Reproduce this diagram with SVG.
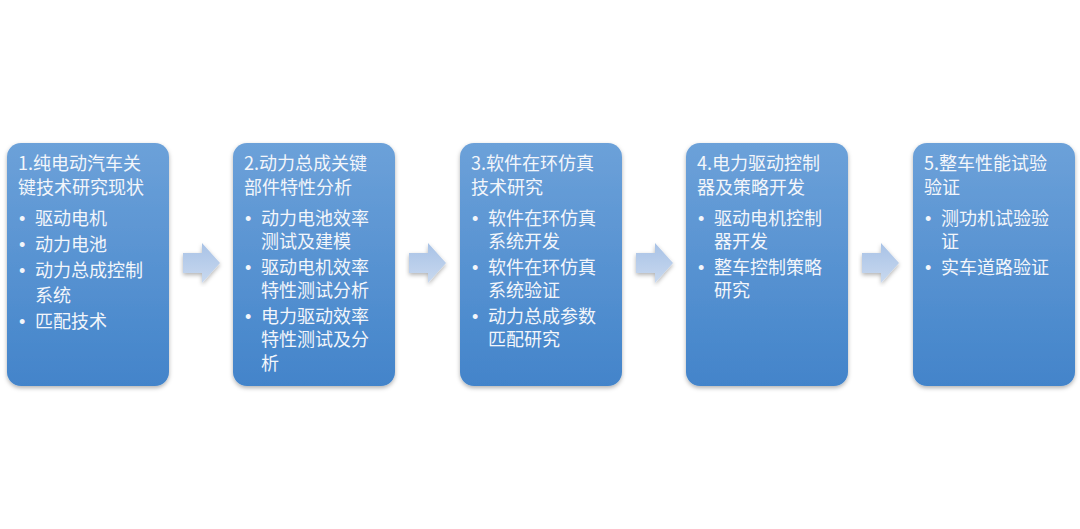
<svg xmlns="http://www.w3.org/2000/svg" width="1080" height="529" viewBox="0 0 1080 529">
<defs>
<linearGradient id="boxg" x1="0" y1="0" x2="0" y2="1">
<stop offset="0" stop-color="#6ca1d9"/>
<stop offset="1" stop-color="#4384ca"/>
</linearGradient>
<linearGradient id="arrg" x1="0" y1="0" x2="0" y2="1">
<stop offset="0" stop-color="#a8c2e6"/>
<stop offset="1" stop-color="#c9d9ef"/>
</linearGradient>
<filter id="sh" x="-10%" y="-10%" width="120%" height="120%">
<feDropShadow dx="0" dy="2" stdDeviation="2" flood-color="#000" flood-opacity="0.3"/>
</filter>
<path id="arrow" d="M0,10 H19 V0 L37,20 L19,40 V30 H0 Z"/>
</defs>
<style>
.box{fill:url(#boxg);filter:url(#sh)}
.arr{fill:url(#arrg);filter:url(#sh)}
text{font-family:"Noto Sans CJK SC","Noto Sans",sans-serif;font-size:18px;fill:#f3f6fb}
text.b{font-family:"Liberation Sans",sans-serif;font-size:18px}
</style>
<rect width="1080" height="529" fill="#ffffff"/>
<g id="connectors">
<use href="#arrow" class="arr" x="183" y="243"/>
<use href="#arrow" class="arr" x="409" y="243"/>
<use href="#arrow" class="arr" x="636" y="243"/>
<use href="#arrow" class="arr" x="862" y="243"/>
</g>
<g id="node1">
<rect class="box" x="7" y="143" width="162" height="243" rx="14"/>
<text x="18" y="169.5">1.纯电动汽车关</text>
<text x="18" y="193.5">键技术研究现状</text>
<text class="b" x="19" y="224.5">•</text><text x="35" y="224.5">驱动电机</text>
<text class="b" x="19" y="250.5">•</text><text x="35" y="250.5">动力电池</text>
<text class="b" x="19" y="276.5">•</text><text x="35" y="276.5">动力总成控制</text>
<text x="35" y="301.5">系统</text>
<text class="b" x="19" y="327.5">•</text><text x="35" y="327.5">匹配技术</text>
</g>
<g id="node2">
<rect class="box" x="233" y="143" width="162" height="243" rx="14"/>
<text x="244" y="169.5">2.动力总成关键</text>
<text x="244" y="193.5">部件特性分析</text>
<text class="b" x="245" y="224.5">•</text><text x="261" y="224.5">动力电池效率</text>
<text x="261" y="247.5">测试及建模</text>
<text class="b" x="245" y="273.5">•</text><text x="261" y="273.5">驱动电机效率</text>
<text x="261" y="296.5">特性测试分析</text>
<text class="b" x="245" y="322.5">•</text><text x="261" y="322.5">电力驱动效率</text>
<text x="261" y="346">特性测试及分</text>
<text x="261" y="369.5">析</text>
</g>
<g id="node3">
<rect class="box" x="460" y="143" width="162" height="243" rx="14"/>
<text x="471" y="169.5">3.软件在环仿真</text>
<text x="471" y="193.5">技术研究</text>
<text class="b" x="472" y="224.5">•</text><text x="488" y="224.5">软件在环仿真</text>
<text x="488" y="247.5">系统开发</text>
<text class="b" x="472" y="273.5">•</text><text x="488" y="273.5">软件在环仿真</text>
<text x="488" y="296.5">系统验证</text>
<text class="b" x="472" y="322.5">•</text><text x="488" y="322.5">动力总成参数</text>
<text x="488" y="346">匹配研究</text>
</g>
<g id="node4">
<rect class="box" x="686" y="143" width="162" height="243" rx="14"/>
<text x="697" y="169.5">4.电力驱动控制</text>
<text x="697" y="193.5">器及策略开发</text>
<text class="b" x="698" y="224.5">•</text><text x="714" y="224.5">驱动电机控制</text>
<text x="714" y="247.5">器开发</text>
<text class="b" x="698" y="273.5">•</text><text x="714" y="273.5">整车控制策略</text>
<text x="714" y="296.5">研究</text>
</g>
<g id="node5">
<rect class="box" x="913" y="143" width="162" height="243" rx="14"/>
<text x="924" y="169.5">5.整车性能试验</text>
<text x="924" y="193.5">验证</text>
<text class="b" x="925" y="224.5">•</text><text x="941" y="224.5">测功机试验验</text>
<text x="941" y="247.5">证</text>
<text class="b" x="925" y="273.5">•</text><text x="941" y="273.5">实车道路验证</text>
</g>
</svg>
